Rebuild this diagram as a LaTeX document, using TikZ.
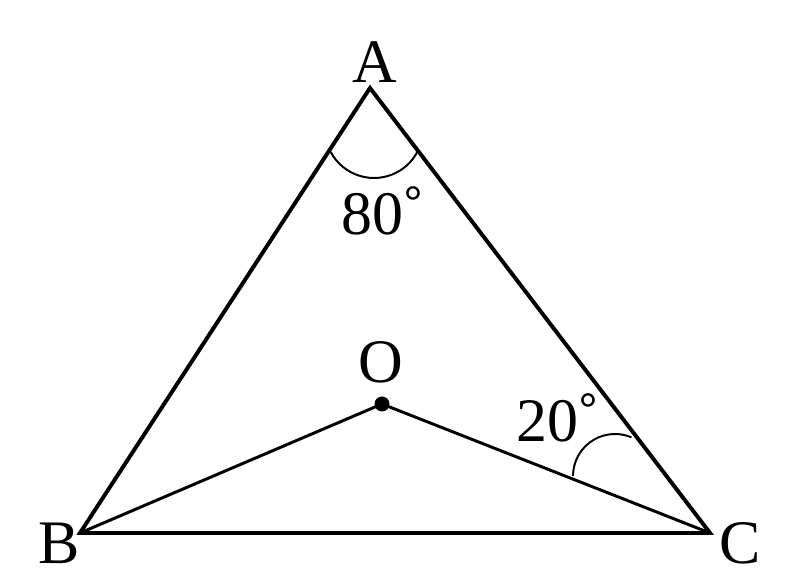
\documentclass[tikz,border=0pt]{standalone}
\usepackage{fontspec}
\setmainfont{Liberation Serif}
\usepackage{tikz}
\usetikzlibrary{calc,positioning}
\newcommand{\gradzeichen}{\kern1pt\raisebox{13pt}{\fontsize{32}{32}\selectfont\bfseries °}}
\tikzset{
  seite/.style={line width=2.8pt,line join=miter},
  strecke/.style={line width=2.1pt},
  winkel/.style={line width=1.4pt},
  lbl/.style={font=\fontsize{44}{50}\selectfont,inner sep=0pt,anchor=base}
}
\begin{document}
\begin{tikzpicture}[x=0.025cm,y=0.025cm]
\useasboundingbox (0,0) rectangle (800,584);
%Eckpunkte
\coordinate (A) at (370,496);
\coordinate (B) at (80,51);
\coordinate (C) at (710,51);
\coordinate (O) at (382,180);
\draw[seite] (A) -- (B) -- (C) -- cycle;
\draw[strecke] (B) -- (O) -- (C);
\fill (O) circle[radius=7.5];
%Winkelboegen
\draw[winkel] ([shift={(208:49)}]374,455) arc[start angle=208,end angle=332,radius=49];
\draw[winkel] ([shift={(180:42)}]615,108) arc[start angle=180,end angle=67,radius=42];
%Beschriftung
\node[lbl] (lA) at (375,501) {A};
\node[lbl] (lB) at (59,21) {B};
\node[lbl] (lC) at (740,21) {C};
\node[lbl] (lO) at (381,201) {O};
\node[lbl] (l80) at (382,349) {80\gradzeichen};
\node[lbl] (l20) at (557,142) {20\gradzeichen};
\end{tikzpicture}
\end{document}
